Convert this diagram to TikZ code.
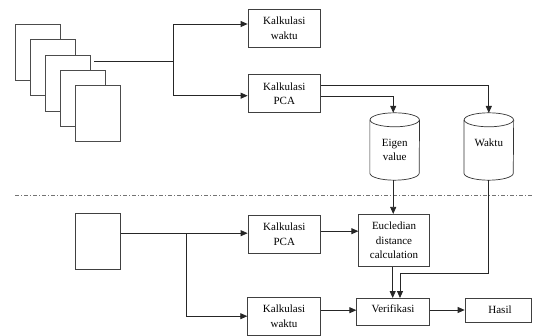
\documentclass[tikz,border=0pt]{standalone}
\usepackage{fontspec}
\setmainfont{Liberation Serif}
\usetikzlibrary{arrows.meta,calc}

\begin{document}
\begin{tikzpicture}[x=1pt,y=1pt,
  every node/.style={font=\fontsize{11}{14.5}\selectfont, align=center, inner sep=0pt},
  proc/.style={draw=black!75, line width=0.7pt, fill=white, minimum width=72.7pt, minimum height=37.6pt},
  page/.style={draw=black!70, line width=0.7pt, fill=white, minimum width=45pt, minimum height=56pt},
  cylbox/.style={minimum width=49.3pt, minimum height=67pt},
  conn/.style={draw=black!85, line width=0.8pt},
  arr/.style={conn, -{Triangle[length=7pt,width=6pt]}},
  sep/.style={draw=black!55, line width=0.8pt, dash pattern=on 4pt off 2pt on 1pt off 2pt}
]
\useasboundingbox (0,0) rectangle (534,-336);

% stack of input pages
\node[page] (pg1) at (37.8,-52)  {};
\node[page] (pg2) at (52.8,-67.5) {};
\node[page] (pg3) at (67.8,-83)  {};
\node[page] (pg4) at (82.8,-98.5) {};
\node[page] (pg5) at (97.8,-113.5) {};

% upper row
\node[proc] (w1) at (284.3,-28.3) {Kalkulasi\\waktu};
\node[proc] (p1) at (284.3,-93.5) {Kalkulasi\\PCA};

% cylinders (stores)
\node[cylbox] (eig) at (394.7,-146.5) {};
\node[cylbox] (wak) at (488.8,-146.5) {};
\foreach \c in {eig,wak}{
  \draw[draw=black!80, line width=0.7pt, fill=white]
    ($(\c.north west)+(0,-7)$) -- ($(\c.south west)+(0,7)$)
    arc[start angle=180, end angle=360, x radius=24.65pt, y radius=7pt]
    -- ($(\c.north east)+(0,-7)$);
  \draw[draw=black!80, line width=0.7pt]
    ($(\c.north)+(0,-7)$) circle[x radius=24.65pt, y radius=7pt];
}
\node[anchor=north] (eigt) at ($(eig.north)+(0,-26)$) {Eigen\\value};
\node[anchor=north] (wakt) at ($(wak.north)+(0,-26)$) {Waktu};

% separator
\coordinate (sepL) at (15,-195.3);
\coordinate (sepR) at (534,-195.3);
\draw[sep] (sepL) -- (sepR);

% lower row
\node[draw=black!75, line width=0.7pt, fill=white, minimum width=45pt, minimum height=55.7pt] (q) at (97.8,-241.2) {};
\node[proc] (p2) at (284.3,-234.2) {Kalkulasi\\PCA};
\node[proc] (w2) at (284.0,-316.2) {Kalkulasi\\waktu};
\node[draw=black!75, line width=0.7pt, fill=white, minimum width=70.6pt, minimum height=52.4pt] (euc) at (394,-240.5) {Eucledian\\distance\\calculation};
\node[draw=black!75, line width=0.7pt, fill=white, minimum width=72.6pt, minimum height=26.7pt] (ver) at (393,-311.7) {};
\node (vert) at (393,-309) {Verifikasi};
\node[draw=black!75, line width=0.7pt, fill=white, minimum width=66pt, minimum height=23.7pt] (has) at (498,-310) {};
\node (hast) at (500,-310) {Hasil};

% upper connectors
\coordinate (src) at (94.3,-61.7);
\coordinate (j1) at (173.3,-61.7);
\coordinate (w1in) at ($(w1.west)+(0,4.3)$);
\coordinate (p1in) at ($(p1.west)+(0,-2.2)$);
\draw[conn] (src) -- (j1);
\draw[arr] (j1) |- (w1in);
\draw[arr] (j1) |- (p1in);
\coordinate (pa) at ($(p1.east)+(0,8.2)$);
\coordinate (pb) at ($(p1.east)+(0,-2.5)$);
\coordinate (wakin) at ($(wak.north)+(0,-0.2)$);
\coordinate (eigin) at ($(eig.north)+(-1.5,0)$);
\draw[arr] (pa) -| (wakin);
\draw[arr] (pb) -| (eigin);

% lower connectors
\coordinate (qo) at ($(q.east)+(0,8)$);
\coordinate (j2) at (186.3,-233.2);
\draw[arr] (qo) -- (qo -| p2.west);
\draw[arr] (j2) |- (w2.west);
\coordinate (p2o) at ($(p2.east)+(0,3)$);
\draw[arr] (p2o) -- (p2o -| euc.west);
\coordinate (eigo) at ($(eig.south)+(-1.5,0)$);
\draw[arr] (eigo) -- (eigo |- euc.north);
\coordinate (euco) at ($(euc.south)+(-1.3,0)$);
\draw[arr] (euco) -- (euco |- ver.north);
\coordinate (bend) at (400,-273.3);
\draw[arr] (wak.south) |- (bend) -- (bend |- ver.north);
\coordinate (w2o) at ($(w2.east)+(0,6)$);
\draw[arr] (w2o) -- (w2o -| ver.west);
\coordinate (vero) at ($(ver.east)+(0,1.7)$);
\draw[arr] (vero) -- (vero -| has.west);
\end{tikzpicture}
\end{document}
